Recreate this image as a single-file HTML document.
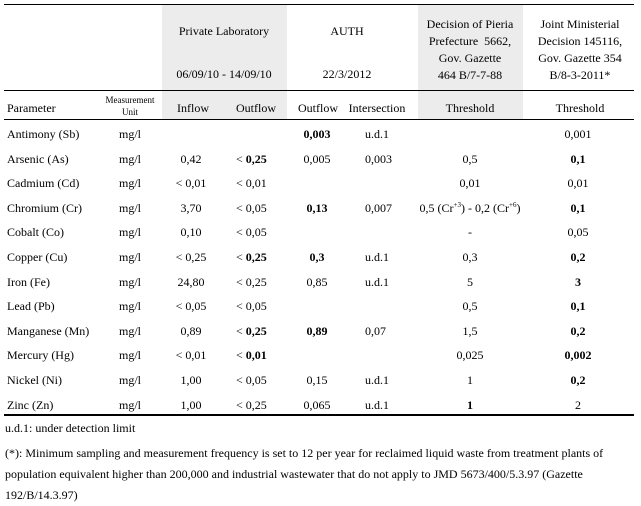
<!DOCTYPE html>
<html><head><meta charset="utf-8"><style>
body{margin:0;width:641px;height:496px;background:#fff;position:relative;overflow:hidden;font-family:"Liberation Serif",serif;font-size:12px;color:#000}
.a{position:absolute;white-space:nowrap;line-height:14px}
.c{transform:translateX(-50%)}
.b{font-weight:bold}
.sh{position:absolute;background:#ececec}
.ln{position:absolute;left:4px;width:630px;background:#000}
sup{font-size:7px;line-height:0}
</style></head><body>
<div class="sh" style="left:162px;top:5px;width:125px;height:114px"></div>
<div class="sh" style="left:418px;top:5px;width:105px;height:114px"></div>
<div class="ln" style="top:4px;height:1px"></div>
<div class="ln" style="top:90px;height:1px"></div>
<div class="ln" style="top:119px;height:1px"></div>
<div class="ln" style="top:414px;height:2px"></div>

<div class="a c" style="left:224px;top:24px">Private Laboratory</div>
<div class="a c" style="left:224px;top:67px">06/09/10 - 14/09/10</div>
<div class="a c" style="left:347px;top:24px">AUTH</div>
<div class="a c" style="left:347px;top:67px">22/3/2012</div>
<div class="a c" style="left:470px;top:16px;text-align:center;line-height:17px">Decision of Pieria<br>Prefecture&nbsp; 5662,<br>Gov. Gazette<br>464 B/7-7-88</div>
<div class="a c" style="left:580px;top:16px;text-align:center;line-height:17px">Joint Ministerial<br>Decision 145116,<br>Gov. Gazette 354<br>B/8-3-2011*</div>

<div class="a" style="left:7px;top:101px">Parameter</div>
<div class="a c" style="left:130px;top:94px;font-size:9px;line-height:12px;text-align:center">Measurement<br>Unit</div>
<div class="a c" style="left:193px;top:101px">Inflow</div>
<div class="a c" style="left:256px;top:101px">Outflow</div>
<div class="a c" style="left:318px;top:101px">Outflow</div>
<div class="a c" style="left:377px;top:101px">Intersection</div>
<div class="a c" style="left:470px;top:101px">Threshold</div>
<div class="a c" style="left:580px;top:101px">Threshold</div>

<div id="rows"></div>

<div class="a" style="left:5px;top:421px">u.d.1: under detection limit</div>
<div class="a" style="left:5px;top:443px;line-height:21px;white-space:normal;width:636px">(*): Minimum sampling and measurement frequency is set to 12 per year for reclaimed liquid waste from treatment plants of population equivalent higher than 200,000 and industrial wastewater that do not apply to JMD 5673/400/5.3.97 (Gazette 192/B/14.3.97)</div>

<script>
const params=["Antimony (Sb)","Arsenic (As)","Cadmium (Cd)","Chromium (Cr)","Cobalt (Co)","Copper (Cu)","Iron (Fe)","Lead (Pb)","Manganese (Mn)","Mercury (Hg)","Nickel (Ni)","Zinc (Zn)"];
const inflow=["","0,42","< 0,01","3,70","0,10","< 0,25","24,80","< 0,05","0,89","< 0,01","1,00","1,00"];
const outflow=["","< <b>0,25</b>","< 0,01","< 0,05","< 0,05","< <b>0,25</b>","< 0,25","< 0,05","< <b>0,25</b>","< <b>0,01</b>","< 0,05","< 0,25"];
const authOut=["<b>0,003</b>","0,005","","<b>0,13</b>","","<b>0,3</b>","0,85","","<b>0,89</b>","","0,15","0,065"];
const inter=["u.d.1","0,003","","0,007","","u.d.1","u.d.1","","0,07","","u.d.1","u.d.1"];
const thr1=["","0,5","0,01","0,5 (Cr<sup>+3</sup>) - 0,2 (Cr<sup>+6</sup>)","-","0,3","5","0,5","1,5","0,025","1","<b>1</b>"];
const thr2=["0,001","<b>0,1</b>","0,01","<b>0,1</b>","0,05","<b>0,2</b>","<b>3</b>","<b>0,1</b>","<b>0,2</b>","<b>0,002</b>","<b>0,2</b>","2"];
const root=document.getElementById('rows');
function cell(html,x,y,center,name){
  const d=document.createElement('div');
  d.className='a'+(center?' c':'');
  d.style.left=x+'px';d.style.top=y+'px';d.innerHTML=html;
  
  
  root.appendChild(d);
}
params.forEach((p,i)=>{
  const y=127+i*24.6;
  cell(p,7,y,false,'parameter-cell');
  cell('mg/l',130,y,true,'unit-cell');
  cell(inflow[i],191,y,true,'inflow-cell');
  cell(outflow[i],236,y,false,'outflow-cell');
  cell(authOut[i],317,y,true,'auth-outflow-cell');
  cell(inter[i],365,y,false,'intersection-cell');
  cell(thr1[i],470,y,true,'threshold1-cell');
  cell(thr2[i],578,y,true,'threshold2-cell');
});
</script>
</body></html>
